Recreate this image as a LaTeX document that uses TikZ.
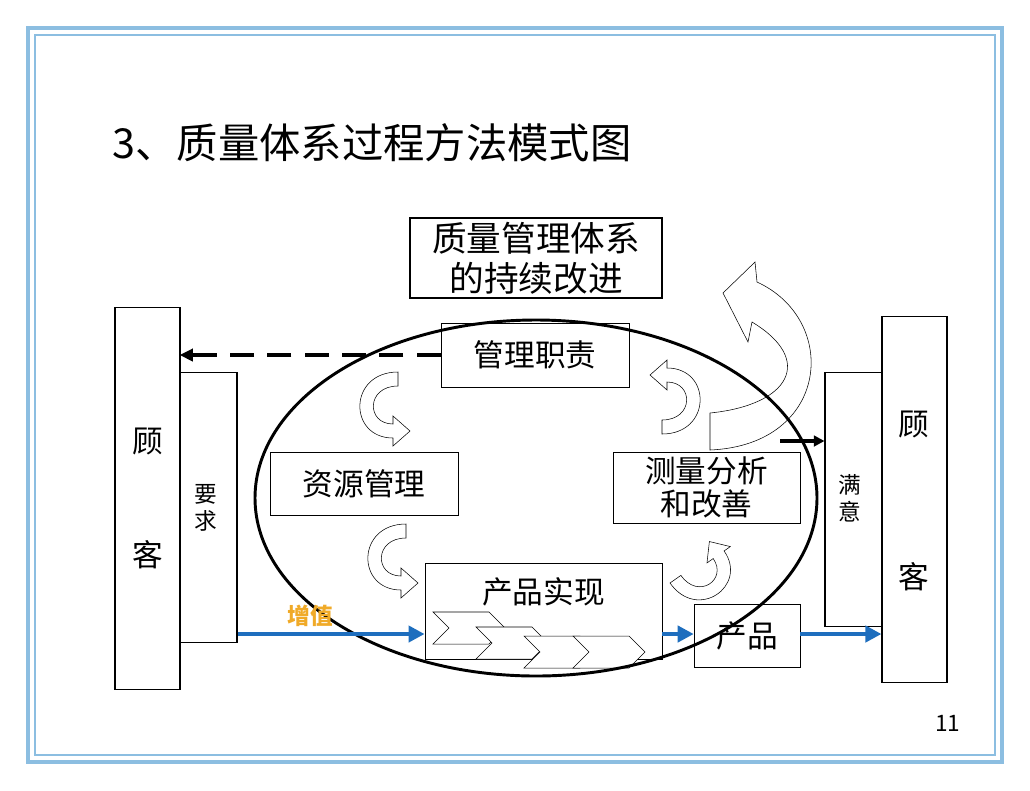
\documentclass[tikz,border=0pt]{standalone}
\usepackage{fontspec}
\setmainfont{Noto Sans CJK SC}
\usetikzlibrary{arrows.meta}
\definecolor{frameblue}{RGB}{140,190,225}
\definecolor{flowblue}{RGB}{30,110,190}
\definecolor{valueorange}{RGB}{240,170,40}
\tikzset{
  box/.style = {draw, thick, fill=white, inner sep=0pt},
  label/.style = {font=\fontsize{23}{26}\selectfont},
  flow/.style = {draw=flowblue, line width=3.5pt, -{Triangle[length=12pt,width=12pt]}},
  hollow/.style = {draw, thin, fill=white},
  bent/.pic = {
    \path[hollow] (0,0) .. controls (-50,0) and (-50,66) .. (-5,66) -- (-5,74)
      -- (12,59) -- (-5,44) -- (-5,52) .. controls (-32,52) and (-32,14) .. (0,14) -- cycle;
  },
  chevron/.pic = {
    \path[hollow] (0,0) -- (56,0) -- (72,16) -- (56,32) -- (0,32) -- (16,16) -- cycle;
  }
}
\begin{document}
\begin{tikzpicture}[x=0.75pt, y=-0.75pt]
\useasboundingbox (0,0) rectangle (1030,790);
% frame
\draw[frameblue, line width=2.5pt] (28,28) rectangle (1002,762);
\draw[frameblue, line width=1.5pt] (35,35) rectangle (995,755);
\node[anchor=west, font=\fontsize{31}{36}\selectfont] (title) at (108,143) {3、质量体系过程方法模式图};
\node[anchor=east, font=\fontsize{17}{20}\selectfont] (page) at (965,723) {11};

% big improvement arrow
\path[hollow] (710,413) .. controls (790,405) and (815,360) .. (752,322) -- (748,342)
  -- (723,293) -- (755,262) -- (757,282) .. controls (840,320) and (830,445) .. (710,450) -- cycle;

% outer blocks
\node[box, minimum width=48.75pt, minimum height=287pt] (custL) at (147.5,498.5) {};
\node[label] at (147.5,441) {顾};
\node[label] at (147.5,555) {客};
\node[box, minimum width=42.75pt, minimum height=203pt] (req) at (208.5,507.5) {};
\node[font=\fontsize{17}{20}\selectfont, align=center] at (206,508) {要\\求};
\node[box, minimum width=42.75pt, minimum height=191pt] (sat) at (853.5,499.5) {};
\node[font=\fontsize{17}{20}\selectfont, align=center] at (850,498) {满\\意};
\node[box, minimum width=48.75pt, minimum height=275pt] (custR) at (914.5,499.5) {};
\node[label] at (914,424) {顾};
\node[label] at (914,577) {客};

\node[box, minimum width=189pt, minimum height=60pt, align=center,
  font=\fontsize{26}{30}\selectfont] (ci) at (536,258) {质量管理体系\\的持续改进};

% process blocks
\node[box, thin, minimum width=141pt, minimum height=48pt, label] (mgmt) at (535,355) {管理职责};
\node[box, thin, minimum width=141pt, minimum height=47pt, label] (res) at (364,483.5) {资源管理};
\node[box, thin, minimum width=140pt, minimum height=53pt, align=center,
  font=\fontsize{23}{25}\selectfont] (meas) at (706.5,487.5) {测量分析\\和改善};
\node[box, thin, minimum width=178pt, minimum height=72pt] (real) at (543.5,611) {};
\node[label] at (543.5,592) {产品实现};
\node[box, thin, minimum width=79.5pt, minimum height=47pt, label] (prod) at (747,635.5) {产品};

% realisation steps
\pic at (433,612) {chevron};
\pic at (476,627) {chevron};
\pic at (524,636) {chevron};
\pic at (573,636) {chevron};

% bent arrows
\pic at (398,372) {bent};
\pic at (406,524) {bent};
\pic[rotate=180] at (662,434) {bent};
\pic[rotate=125, scale=0.95] at (670,583) {bent};

% process ring
\draw[line width=2.2pt] (536,498) ellipse [x radius=281, y radius=178];

% links
\draw[line width=3pt, dash pattern=on 18pt off 10pt, -{Triangle[length=10pt,width=9pt]}] (mgmt.west) -- (req.north west |- mgmt.west);
\draw[flow] (req.east |- 0,634) -- (real.west |- 0,634);
\draw[flow] (real.east |- 0,634) -- (prod.west |- 0,634);
\draw[flow] (prod.east |- 0,634) -- (custR.west |- 0,634);
\node[font=\bfseries\fontsize{17}{20}\selectfont, text=valueorange] (value) at (310,616) {增值};
\coordinate (satin) at (780,441);
\draw[line width=3pt, -{Triangle[length=8pt,width=8pt]}] (satin) -- (sat.west |- satin);
\end{tikzpicture}
\end{document}
